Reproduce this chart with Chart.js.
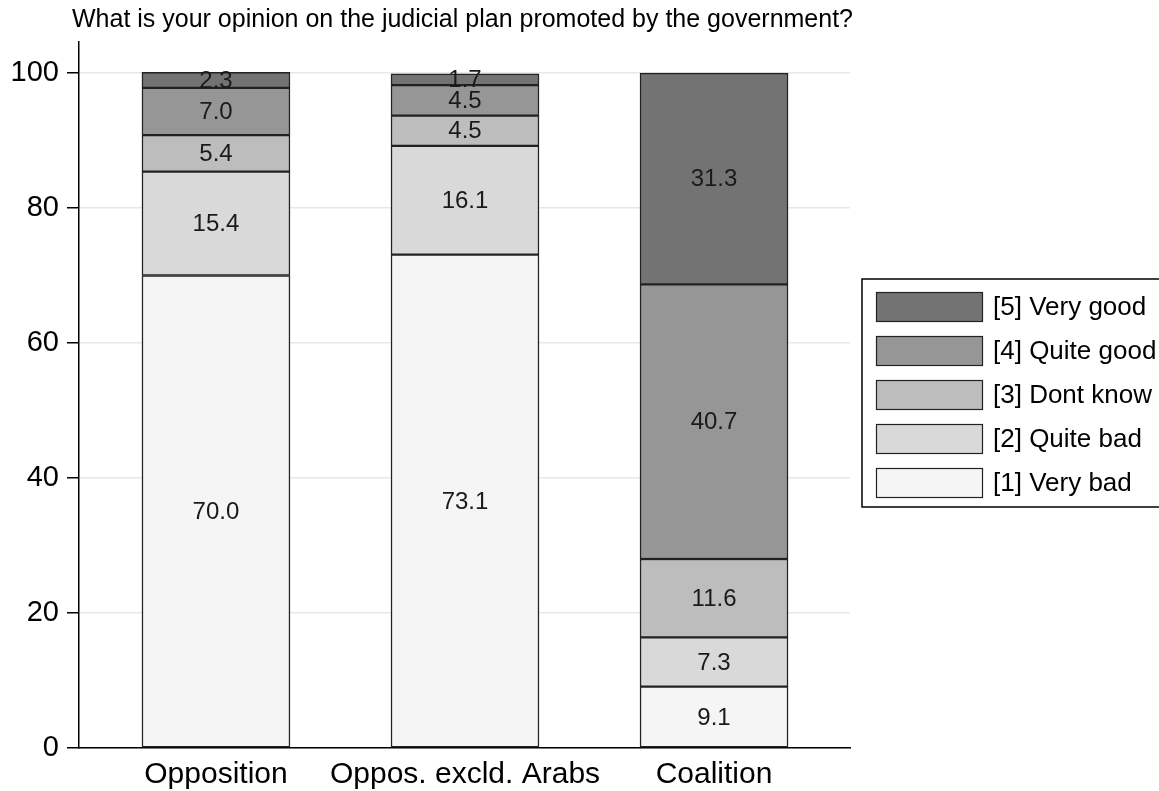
<!DOCTYPE html>
<html>
<head>
<meta charset="utf-8">
<script src="https://cdn.jsdelivr.net/npm/chart.js@4"></script>
<style>
  body { margin: 0; background: #fff; }
  #wrap { width: 1159px; height: 791px; }
</style>
</head>
<body>
<div id="wrap"><canvas id="opinionChart" width="1159" height="791"></canvas></div>
<script>
var titleText = "What is your opinion on the judicial plan promoted by the government?";
var groups = ["Opposition", "Oppos. excld. Arabs", "Coalition"];
var seriesNames = ["[1] Very bad", "[2] Quite bad", "[3] Dont know", "[4] Quite good", "[5] Very good"];
var veryBad = [70.0, 73.1, 9.1];
var quiteBad = [15.4, 16.1, 7.3];
var dontKnow = [5.4, 4.5, 11.6];
var quiteGood = [7.0, 4.5, 40.7];
var veryGood = [2.3, 1.7, 31.3];
var yTicks = [0, 20, 40, 60, 80, 100];
var colors = ["#f5f5f5", "#d9d9d9", "#bdbdbd", "#969696", "#737373"];

var FONT = "Arial, 'Liberation Sans', sans-serif";

function points(arr) {
    return arr.map(function (v, i) { return { x: i, y: v }; });
}

var allSeries = [veryBad, quiteBad, dontKnow, quiteGood, veryGood];
var datasets = allSeries.map(function (s, i) {
    return {
        label: seriesNames[i],
        data: points(s),
        backgroundColor: colors[i],
        borderColor: "#222",
        borderWidth: 1.5,
        borderSkipped: false,
        barThickness: 148
    };
});

// value labels centred in each segment
var segmentLabels = {
    id: "segmentLabels",
    afterDatasetsDraw: function (chart) {
        var ctx = chart.ctx;
        ctx.save();
        ctx.font = "24px " + FONT;
        ctx.fillStyle = "#1a1a1a";
        ctx.textAlign = "center";
        ctx.textBaseline = "middle";
        chart.data.datasets.forEach(function (ds, di) {
            chart.getDatasetMeta(di).data.forEach(function (bar, j) {
                var c = bar.getCenterPoint();
                ctx.fillText(ds.data[j].y.toFixed(1), c.x, c.y + 1);
            });
        });
        ctx.restore();
    }
};

// title + boxed legend on the right
var extras = {
    id: "extras",
    afterDraw: function (chart) {
        var ctx = chart.ctx;
        ctx.save();
        ctx.fillStyle = "#000";
        ctx.font = "25px " + FONT;
        ctx.textAlign = "left";
        ctx.textBaseline = "middle";
        ctx.fillText(titleText, 72, 20);

        ctx.strokeStyle = "#000";
        ctx.lineWidth = 1.5;
        ctx.strokeRect(862, 279, 320, 228);
        ctx.font = "26px " + FONT;
        for (var k = 0; k < 5; k++) {
            var idx = 4 - k;
            var y = 292 + k * 44;
            ctx.fillStyle = colors[idx];
            ctx.fillRect(876, y, 107, 30);
            ctx.strokeStyle = "#222";
            ctx.lineWidth = 1.2;
            ctx.strokeRect(876.5, y + 0.5, 106, 29);
            ctx.fillStyle = "#000";
            ctx.fillText(seriesNames[idx], 993, y + 16);
        }
        ctx.restore();
    }
};

var ctx = document.getElementById("opinionChart").getContext("2d");
var opinionChart = new Chart(ctx, {
    type: "bar",
    data: { datasets: datasets },
    options: {
        responsive: false,
        animation: false,
        layout: { padding: { top: 42, right: 309, bottom: 0, left: 0 } },
        plugins: {
            legend: { display: false },
            tooltip: { enabled: false }
        },
        scales: {
            x: {
                type: "linear",
                stacked: true,
                offset: false,
                min: -0.55,
                max: 2.546,
                afterFit: function (s) { s.height = 43; },
                afterBuildTicks: function (s) {
                    s.ticks = groups.map(function (g, i) { return { value: i }; });
                },
                grid: { display: false },
                border: { display: true, color: "#000", width: 1.5 },
                ticks: {
                    color: "#000",
                    font: { family: FONT, size: 30 },
                    padding: 1,
                    maxRotation: 0,
                    autoSkip: false,
                    callback: function (v) { return groups[v]; }
                }
            },
            y: {
                stacked: true,
                min: 0,
                max: 104.6,
                afterFit: function (s) { s.width = 79; },
                afterBuildTicks: function (s) {
                    s.ticks = yTicks.map(function (v) { return { value: v }; });
                },
                grid: {
                    color: "#e8e8e8",
                    lineWidth: 1.5,
                    tickLength: 12,
                    tickColor: "#000",
                    tickWidth: 1.5
                },
                border: { display: true, color: "#000", width: 1.5 },
                ticks: {
                    color: "#000",
                    font: { family: FONT, size: 29 },
                    padding: 8
                }
            }
        }
    },
    plugins: [segmentLabels, extras]
});
</script>
</body>
</html>
